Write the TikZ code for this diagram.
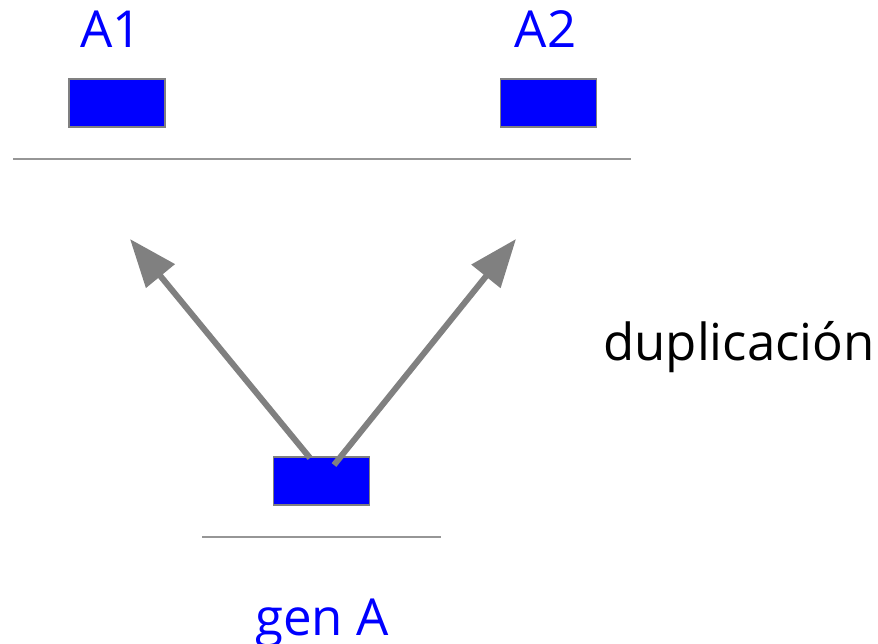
\documentclass[tikz,border=0pt]{standalone}
\usepackage{fontspec}
\setmainfont{Open Sans}
\usetikzlibrary{arrows.meta}
\definecolor{genblue}{RGB}{0,0,255}
\definecolor{edgegray}{RGB}{128,128,128}
\definecolor{rulegray}{RGB}{150,150,150}
\tikzset{
  genbox/.style={draw=edgegray, line width=1.5pt, fill=genblue, minimum width=96pt, minimum height=48pt, inner sep=0pt, outer sep=0pt},
  genlabel/.style={text=genblue, font=\fontsize{51}{60}\selectfont, anchor=base, inner sep=0pt},
  plainlabel/.style={text=black, font=\fontsize{51}{60}\selectfont, anchor=base west, inner sep=0pt},
  rule/.style={draw=rulegray, line width=2pt},
  dup/.style={draw=edgegray, line width=6pt, line cap=butt, -{Triangle[length=48pt, width=36pt]}}
}
\begin{document}
\begin{tikzpicture}[x=1pt, y=-1pt]
  \useasboundingbox (0,0) rectangle (878,643);
  % gene copies after duplication
  \node[genbox] (a1) at (117,103) {};
  \node[genbox] (a2) at (548.5,103) {};
  \node[genlabel] (la1) at (111,47) {A1};
  \node[genlabel] (la2) at (545.5,47) {A2};
  \coordinate (t1l) at (13,159);
  \coordinate (t1r) at (631,159);
  \draw[rule] (t1l) -- (t1r);
  % original gene
  \node[genbox] (g) at (321.5,481) {};
  \node[genlabel] (lg) at (322,635) {gen A};
  \coordinate (t2l) at (202,537);
  \coordinate (t2r) at (441,537);
  \draw[rule] (t2l) -- (t2r);
  % duplication arrows
  \coordinate (s1) at (310,458);
  \coordinate (e1) at (130,239);
  \coordinate (s2) at (334,465);
  \coordinate (e2) at (516,239);
  \draw[dup] (s1) -- (e1);
  \draw[dup] (s2) -- (e2);
  \node[plainlabel] (ld) at (603,360) {duplicación};
\end{tikzpicture}
\end{document}
